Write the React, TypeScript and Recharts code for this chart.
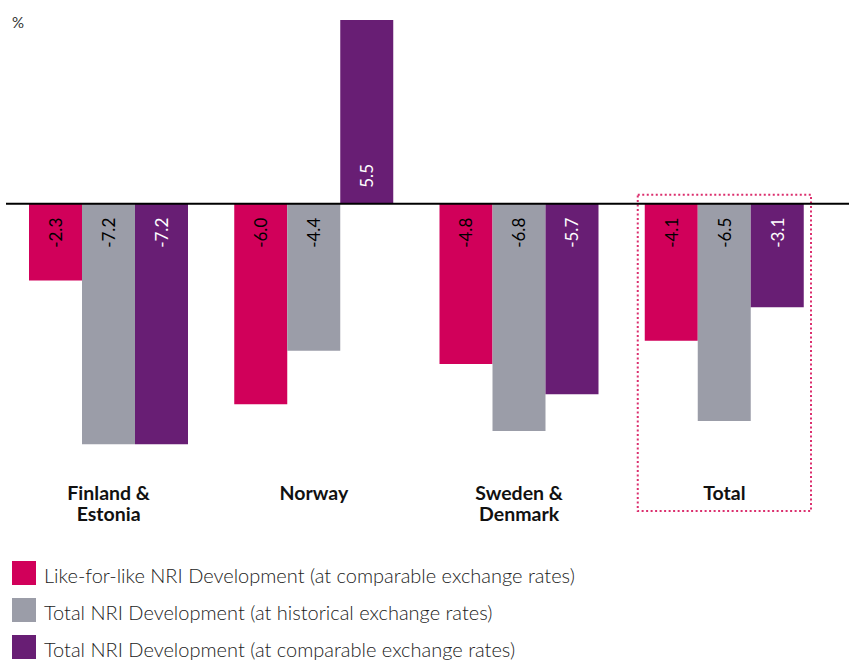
import { BarChart, Bar, XAxis, YAxis, ReferenceLine, ReferenceArea, LabelList, Legend } from 'recharts'

const categories = ['Finland & Estonia', 'Norway', 'Sweden & Denmark', 'Total']
const categoryLines: Record<string, string[]> = {
    'Finland & Estonia': ['Finland &', 'Estonia'],
    'Norway': ['Norway'],
    'Sweden & Denmark': ['Sweden &', 'Denmark'],
    'Total': ['Total'],
}
const likeForLike = [-2.3, -6.0, -4.8, -4.1]
const totalHistorical = [-7.2, -4.4, -6.8, -6.5]
const totalComparable = [-7.2, 5.5, -5.7, -3.1]

const series = [
    {key: 'lfl', name: 'Like-for-like NRI Development (at comparable exchange rates)', color: '#D1005A', label: '#000'},
    {key: 'hist', name: 'Total NRI Development (at historical exchange rates)', color: '#9B9DA8', label: '#000'},
    {key: 'comp', name: 'Total NRI Development (at comparable exchange rates)', color: '#681E74', label: '#fff'},
]

const data = categories.map((c, i) => ({
    category: c,
    lfl: likeForLike[i],
    hist: totalHistorical[i],
    comp: totalComparable[i],
}))

const FONT = 'Lato, "Noto Sans", sans-serif'

const valueLabel = (fill: string) => (props: any) => {
    const {x, y, width, height, value} = props
    const cx = x + width / 2
    const base = y + height
    const pos = value >= 0
    const ty = pos ? base - 16 : base + 14
    return (
        <text x={cx} y={ty} transform={`rotate(-90, ${cx}, ${ty})`} textAnchor={pos ? 'start' : 'end'}
              dominantBaseline="central" fill={fill} fontSize={17} fontFamily={FONT}>
            {Number(value).toFixed(1)}
        </text>
    )
}

const CategoryTick = (props: any) => {
    const {x, y, payload} = props
    const lines = categoryLines[payload.value] || [payload.value]
    return (
        <g>
            {lines.map((l, i) => (
                <text key={i} x={x} y={y + 13 + i * 21} textAnchor="middle" dominantBaseline="central"
                      fontSize={19.5} fontWeight={700} fontFamily={FONT} fill="#111">{l}</text>
            ))}
        </g>
    )
}

const DottedBox = (props: any) => {
    const {x, y, width, height} = props
    return <rect x={x + 16} y={y} width={width - 32} height={height} fill="none" stroke="#DB2F6E"
                 strokeWidth={2} strokeDasharray="2 2.5"/>
}

const LegendBox = () => (
    <div style={{height: 124, paddingTop: 14, boxSizing: 'border-box', fontFamily: FONT}}>
        {series.map(s => (
            <div key={s.key} style={{display: 'flex', alignItems: 'center', height: 37}}>
                <span style={{width: 24, height: 24, background: s.color, marginLeft: 12, marginRight: 8, display: 'inline-block'}}/>
                <span style={{fontSize: 20, color: '#222', fontWeight: 300, position: 'relative', top: 2}}>{s.name}</span>
            </div>
        ))}
    </div>
)

export default function App() {
    return (
        <div style={{position: 'absolute', left: 0, top: 0, width: 849, height: 664, background: '#fff'}}>
            <div style={{position: 'absolute', left: 12, top: 13, fontSize: 15, color: '#333', fontFamily: FONT}}>%</div>
            <BarChart width={849} height={664} data={data} barGap={0} barSize={53}
                      margin={{top: 20, right: 0, left: 6, bottom: 0}}>
                <XAxis dataKey="category" axisLine={false} tickLine={false} height={69}
                       padding={{left: 0, right: 22}} tick={<CategoryTick/>} interval={0}/>
                <YAxis hide domain={[-8, 5.5]}/>
                <ReferenceArea x1="Total" x2="Total" y1={0.27} y2={-9.2} ifOverflow="visible" shape={<DottedBox/>}/>
                {series.map(s => (
                    <Bar key={s.key} dataKey={s.key} name={s.name} fill={s.color} isAnimationActive={false}>
                        <LabelList dataKey={s.key} content={valueLabel(s.label)}/>
                    </Bar>
                ))}
                <ReferenceLine y={0} stroke="#000" strokeWidth={2}/>
                <Legend verticalAlign="bottom" align="left" layout="horizontal" content={() => <LegendBox/>}
                        wrapperStyle={{left: 0, width: 849}}/>
            </BarChart>
        </div>
    )
}
